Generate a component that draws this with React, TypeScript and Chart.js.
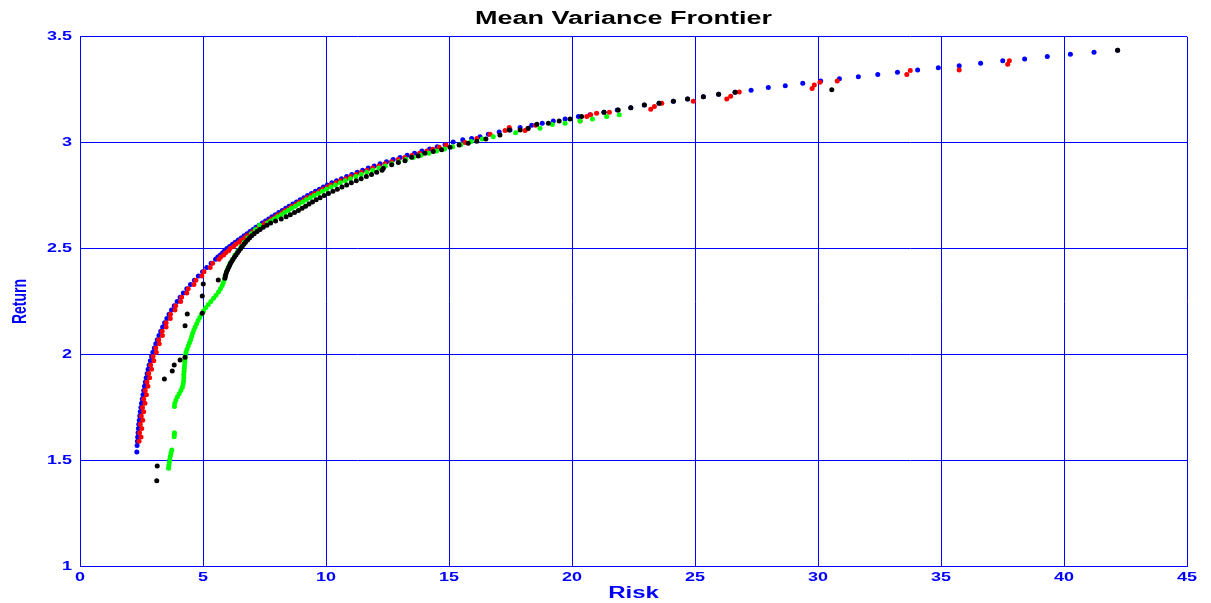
import React, { useEffect, useRef } from 'react';
import { Chart, registerables } from 'chart.js';

Chart.register(...registerables);

const chartTitle = 'Mean Variance Frontier';
const xAxisLabel = 'Risk';
const yAxisLabel = 'Return';
const xTickValues = [0, 5, 10, 15, 20, 25, 30, 35, 40, 45];
const xTickLabels = ['0', '5', '10', '15', '20', '25', '30', '35', '40', '45'];
const yTickValues = [1, 1.5, 2, 2.5, 3, 3.5];
const yTickLabels = ['1', '1.5', '2', '2.5', '3', '3.5'];

// [risk, return]
const bluePoints: [number, number][] = [
  [2.31, 1.54], [2.32, 1.57], [2.335, 1.59], [2.345, 1.61], [2.36, 1.63], [2.375, 1.65], [2.39, 1.67], [2.41, 1.69],
  [2.43, 1.71], [2.45, 1.73], [2.475, 1.75], [2.5, 1.77], [2.53, 1.79], [2.56, 1.81], [2.59, 1.83], [2.62, 1.85],
  [2.655, 1.87], [2.69, 1.89], [2.73, 1.91], [2.77, 1.93], [2.81, 1.95], [2.86, 1.97], [2.91, 1.99], [2.96, 2.01],
  [3.02, 2.03], [3.08, 2.05], [3.14, 2.07], [3.21, 2.09], [3.28, 2.11], [3.36, 2.13], [3.44, 2.15], [3.53, 2.17],
  [3.62, 2.19], [3.72, 2.21], [3.83, 2.23], [3.95, 2.25], [4.07, 2.27], [4.2, 2.29], [4.34, 2.31], [4.49, 2.33],
  [4.65, 2.35], [4.81, 2.37], [4.98, 2.39], [5.15, 2.41], [5.33, 2.43], [5.51, 2.45],
  [5.6, 2.46], [5.7, 2.47], [5.8, 2.48], [5.88, 2.49], [5.97, 2.5], [6.08, 2.51], [6.2, 2.52], [6.31, 2.53],
  [6.43, 2.54], [6.55, 2.55], [6.67, 2.56], [6.79, 2.57], [6.91, 2.58], [7.03, 2.59], [7.15, 2.6], [7.28, 2.61],
  [7.41, 2.62], [7.54, 2.63], [7.67, 2.64], [7.8, 2.65], [7.94, 2.66], [8.08, 2.67], [8.22, 2.68], [8.36, 2.69],
  [8.5, 2.7], [8.65, 2.71], [8.8, 2.72], [8.95, 2.73], [9.1, 2.74], [9.25, 2.75], [9.41, 2.76], [9.57, 2.77],
  [9.73, 2.78], [9.89, 2.79], [10.05, 2.8], [10.24, 2.81], [10.43, 2.82], [10.63, 2.83], [10.84, 2.84], [11.05, 2.85],
  [11.27, 2.86], [11.49, 2.87], [11.72, 2.88], [11.96, 2.89], [12.2, 2.9], [12.46, 2.91], [12.73, 2.92], [13.01, 2.93],
  [13.3, 2.94], [13.6, 2.95], [13.9, 2.96], [14.21, 2.97], [14.52, 2.98], [14.84, 2.99],
  [15.17, 3.003], [15.56, 3.013], [15.92, 3.019], [16.26, 3.028], [16.6, 3.04], [17.04, 3.05], [17.48, 3.06], [17.89, 3.071],
  [18.36, 3.082], [18.79, 3.092], [19.24, 3.102], [19.72, 3.112], [20.26, 3.123], [20.73, 3.132], [21.3, 3.143], [21.84, 3.154],
  [22.39, 3.165], [22.94, 3.177], [23.54, 3.186], [24.12, 3.195], [24.7, 3.206], [25.34, 3.217], [25.96, 3.228], [26.63, 3.238],
  [27.28, 3.247], [27.98, 3.26], [28.67, 3.269], [29.38, 3.28], [30.11, 3.291], [30.87, 3.302], [31.64, 3.311], [32.43, 3.322],
  [33.23, 3.332], [34.05, 3.343], [34.89, 3.354], [35.74, 3.363], [36.61, 3.375], [37.51, 3.386], [38.4, 3.395], [39.32, 3.406],
  [40.26, 3.417], [41.22, 3.427], [42.18, 3.436],
];

const redPoints: [number, number][] = [
  [2.4, 1.59], [2.48, 1.61], [2.42, 1.63], [2.51, 1.65], [2.45, 1.67], [2.55, 1.69], [2.49, 1.71], [2.59, 1.73],
  [2.54, 1.75], [2.64, 1.77], [2.59, 1.79], [2.7, 1.81], [2.65, 1.83], [2.76, 1.85], [2.72, 1.87], [2.83, 1.89],
  [2.79, 1.91], [2.91, 1.93], [2.87, 1.95], [3.0, 1.97], [2.97, 1.99], [3.1, 2.01], [3.08, 2.03], [3.22, 2.05],
  [3.2, 2.07], [3.35, 2.09], [3.34, 2.11], [3.5, 2.13], [3.5, 2.15], [3.67, 2.17], [3.68, 2.19], [3.86, 2.21],
  [3.89, 2.23], [4.09, 2.25], [4.13, 2.27], [4.34, 2.29], [4.4, 2.31], [4.63, 2.33], [4.71, 2.35], [4.95, 2.37],
  [5.04, 2.39], [5.29, 2.41], [5.39, 2.43], [5.65, 2.45],
  [5.72, 2.46], [5.84, 2.47], [5.92, 2.48], [6.04, 2.49], [6.1, 2.5], [6.24, 2.51], [6.33, 2.52], [6.46, 2.53],
  [6.55, 2.54], [6.69, 2.55], [6.79, 2.56], [6.93, 2.57], [7.03, 2.58], [7.17, 2.59], [7.27, 2.6], [7.42, 2.61],
  [7.53, 2.62], [7.68, 2.63], [7.79, 2.64], [7.95, 2.65], [8.06, 2.66], [8.23, 2.67], [8.34, 2.68], [8.51, 2.69],
  [8.62, 2.7], [8.8, 2.71], [8.93, 2.72], [9.11, 2.73], [9.23, 2.74], [9.41, 2.75], [9.54, 2.76], [9.73, 2.77],
  [9.87, 2.78], [10.06, 2.79], [10.2, 2.8], [10.41, 2.81], [10.58, 2.82], [10.8, 2.83], [11.0, 2.84], [11.22, 2.85],
  [11.43, 2.86], [11.67, 2.87], [11.9, 2.88], [12.15, 2.89], [12.4, 2.9], [12.66, 2.91], [12.93, 2.92], [13.2, 2.93],
  [13.5, 2.94], [13.8, 2.95], [14.1, 2.96],
  [14.34, 2.969], [14.6, 2.978], [14.88, 2.989], [15.65, 3.0], [16.13, 3.019], [16.67, 3.04], [17.28, 3.057], [17.45, 3.071],
  [18.09, 3.057], [18.2, 3.066], [18.52, 3.082], [20.33, 3.102], [20.6, 3.123], [20.76, 3.132], [21.0, 3.139], [21.52, 3.143],
  [23.2, 3.158], [23.35, 3.17], [23.65, 3.186], [24.93, 3.195], [26.29, 3.206], [26.45, 3.219], [26.8, 3.239], [29.76, 3.255],
  [29.85, 3.272], [30.08, 3.285], [30.78, 3.291], [33.61, 3.321], [33.75, 3.34], [35.74, 3.343], [37.71, 3.37], [37.78, 3.387],
];

const greenPoints: [number, number][] = [
  [3.6, 1.463], [3.61, 1.475], [3.63, 1.49], [3.65, 1.505], [3.67, 1.52], [3.7, 1.535], [3.73, 1.549],
  [3.83, 1.612], [3.83, 1.622], [3.84, 1.631],
  [3.84, 1.754], [3.85, 1.77], [3.9, 1.785], [3.96, 1.8], [4.03, 1.815], [4.1, 1.83], [4.16, 1.845], [4.19, 1.86],
  [4.21, 1.875], [4.22, 1.89], [4.22, 1.905], [4.23, 1.92], [4.24, 1.935], [4.25, 1.95], [4.26, 1.965], [4.27, 1.98],
  [4.28, 1.995], [4.31, 2.01], [4.35, 2.025], [4.4, 2.04], [4.45, 2.055], [4.5, 2.07], [4.54, 2.085], [4.58, 2.1],
  [4.63, 2.115], [4.68, 2.13], [4.74, 2.145], [4.8, 2.16], [4.87, 2.175], [4.94, 2.19], [5.02, 2.205], [5.11, 2.22],
  [5.21, 2.235], [5.32, 2.25], [5.43, 2.265], [5.53, 2.28], [5.63, 2.295], [5.71, 2.31], [5.78, 2.325], [5.83, 2.34],
  [5.87, 2.355], [5.9, 2.37], [5.95, 2.39], [6.02, 2.41], [6.1, 2.43], [6.2, 2.45], [6.3, 2.47], [6.42, 2.49],
  [6.55, 2.51], [6.68, 2.53], [6.82, 2.55], [6.97, 2.57], [7.13, 2.59], [7.3, 2.61],
  [7.62, 2.62], [7.76, 2.63], [7.9, 2.64], [8.04, 2.65], [8.18, 2.66], [8.32, 2.67], [8.46, 2.68], [8.6, 2.69],
  [8.75, 2.7], [8.9, 2.71], [9.05, 2.72], [9.2, 2.73], [9.36, 2.74], [9.52, 2.75], [9.68, 2.76], [9.85, 2.77],
  [10.02, 2.78], [10.2, 2.79], [10.38, 2.8], [10.58, 2.81], [10.78, 2.82], [10.99, 2.83], [11.21, 2.84], [11.43, 2.85],
  [11.66, 2.86], [11.9, 2.87], [12.15, 2.88], [12.41, 2.89], [12.68, 2.9], [12.96, 2.91], [13.25, 2.92], [13.55, 2.93],
  [13.86, 2.94], [14.18, 2.95], [14.5, 2.96], [14.82, 2.97], [15.15, 2.98], [15.48, 2.99],
  [15.9, 3.005], [16.35, 3.017], [16.8, 3.028], [17.71, 3.047], [18.7, 3.068], [19.2, 3.085], [19.72, 3.092], [20.33, 3.102],
  [20.83, 3.112], [21.41, 3.123], [21.92, 3.132],
];

const blackPoints: [number, number][] = [
  [3.12, 1.404], [3.14, 1.474], [3.43, 1.884], [3.75, 1.922], [3.83, 1.95], [4.07, 1.974], [4.27, 1.987], [4.27, 2.135],
  [4.36, 2.191], [4.97, 2.194], [4.97, 2.276], [5.01, 2.333], [5.62, 2.352],
  [5.89, 2.36], [5.91, 2.37], [5.93, 2.38], [5.96, 2.39], [6.0, 2.4], [6.04, 2.41], [6.08, 2.42], [6.12, 2.43],
  [6.17, 2.44], [6.22, 2.45], [6.28, 2.46], [6.34, 2.47], [6.4, 2.48], [6.46, 2.49], [6.53, 2.5], [6.59, 2.51],
  [6.66, 2.52], [6.73, 2.53], [6.81, 2.54], [6.89, 2.55], [6.98, 2.56], [7.08, 2.57], [7.2, 2.58], [7.32, 2.59],
  [7.45, 2.6], [7.6, 2.61], [7.75, 2.62], [7.95, 2.63], [8.18, 2.64], [8.38, 2.65], [8.55, 2.66], [8.72, 2.67],
  [8.88, 2.68], [9.03, 2.69], [9.17, 2.7], [9.31, 2.71], [9.45, 2.72], [9.6, 2.73], [9.76, 2.74], [9.93, 2.75],
  [10.1, 2.76], [10.28, 2.77], [10.46, 2.78], [10.65, 2.79], [10.84, 2.8], [11.03, 2.81], [11.23, 2.82], [11.43, 2.83],
  [11.64, 2.84], [11.85, 2.85], [12.06, 2.86], [12.28, 2.87],
  [12.33, 2.879], [12.67, 2.895], [12.94, 2.906], [13.21, 2.915], [13.48, 2.931], [13.75, 2.937], [14.02, 2.95], [14.36, 2.958],
  [14.7, 2.966], [15.04, 2.978], [15.41, 2.989], [15.78, 2.997], [16.13, 3.007], [16.5, 3.017], [17.07, 3.036], [17.45, 3.06],
  [17.89, 3.06], [18.22, 3.068], [18.57, 3.087], [19.04, 3.092], [19.48, 3.102], [19.92, 3.112], [20.39, 3.123], [21.3, 3.143],
  [21.88, 3.154], [22.39, 3.165], [22.94, 3.177], [23.54, 3.186], [24.12, 3.195], [24.7, 3.206], [25.34, 3.217], [25.96, 3.228],
  [26.63, 3.238], [30.56, 3.249], [42.18, 3.436],
];

const TEXT_STRETCH = 1.5;
const FONT_FAMILY = "'Liberation Sans', Arial, Helvetica, sans-serif";
const BLUE = '#0000ff';

function toXY(points: [number, number][]) {
  return points.map(([x, y]) => ({ x, y }));
}

function labelFor(values: number[], labels: string[], v: number) {
  const i = values.findIndex((t) => Math.abs(t - v) < 1e-9);
  return i >= 0 ? labels[i] : '';
}

export default function App() {
  const ref = useRef<HTMLCanvasElement>(null);

  useEffect(() => {
    const canvas = ref.current;
    if (!canvas) return;
    const ctx = canvas.getContext('2d') as CanvasRenderingContext2D;
    const origFill = ctx.fillText;
    (ctx as any).fillText = function (text: string, x: number, y: number, maxWidth?: number) {
      const m = ctx.getTransform();
      const px = m.a * x + m.c * y + m.e;
      ctx.save();
      const s = new DOMMatrix([TEXT_STRETCH, 0, 0, 1, px - TEXT_STRETCH * px, 0]);
      ctx.setTransform(s.multiply(m));
      if (maxWidth === undefined) origFill.call(ctx, text, x, y);
      else origFill.call(ctx, text, x, y, maxWidth);
      ctx.restore();
    };

    const mk = (label: string, pts: [number, number][], color: string, order: number) => ({
      label,
      data: toXY(pts),
      backgroundColor: color,
      borderColor: color,
      pointRadius: 2.5,
      pointBorderWidth: 0,
      pointHoverRadius: 2.5,
      showLine: false,
      order,
    });

    const chart = new Chart(ctx, {
      type: 'scatter',
      data: {
        datasets: [
          mk('Series 1', bluePoints, BLUE, 4),
          mk('Series 2', redPoints, '#ff0000', 3),
          mk('Series 3', greenPoints, '#00ff00', 2),
          mk('Series 4', blackPoints, '#000000', 1),
        ],
      },
      options: {
        responsive: false,
        devicePixelRatio: 1,
        animation: false,
        layout: { padding: { left: 0, right: -36, top: 0, bottom: 0 } },
        plugins: {
          legend: { display: false },
          tooltip: { enabled: false },
          title: {
            display: true,
            text: chartTitle,
            color: '#000000',
            font: { family: FONT_FAMILY, size: 18, weight: 'bold' },
            padding: { top: 8.5, bottom: 6.6 },
          },
        },
        scales: {
          x: {
            type: 'linear',
            min: 0,
            max: 45,
            afterBuildTicks: (scale: any) => {
              scale.ticks = xTickValues.map((v) => ({ value: v }));
            },
            afterFit: (scale: any) => {
              scale.height = 36.7;
              scale.paddingLeft = 0;
              scale.paddingRight = 0;
            },
            grid: { color: BLUE, lineWidth: 1, drawTicks: false },
            border: { display: true, color: BLUE, width: 1 },
            ticks: {
              autoSkip: false,
              maxRotation: 0,
              padding: 4,
              color: BLUE,
              font: { family: FONT_FAMILY, size: 12, weight: 'bold' },
              callback: (v: any) => labelFor(xTickValues, xTickLabels, Number(v)),
            },
            title: {
              display: true,
              text: xAxisLabel,
              color: BLUE,
              font: { family: FONT_FAMILY, size: 16, weight: 'bold' },
              padding: { top: 0, bottom: -0.6 },
            },
          },
          y: {
            type: 'linear',
            position: 'left',
            min: 1,
            max: 3.5,
            afterBuildTicks: (scale: any) => {
              scale.ticks = yTickValues.map((v) => ({ value: v }));
            },
            afterFit: (scale: any) => {
              scale.width = 80;
              scale.paddingTop = 0;
              scale.paddingBottom = 0;
            },
            grid: { color: BLUE, lineWidth: 1, drawTicks: false },
            border: { display: true, color: BLUE, width: 1 },
            ticks: {
              autoSkip: false,
              padding: 8,
              color: BLUE,
              font: { family: FONT_FAMILY, size: 12, weight: 'bold' },
              callback: (v: any) => labelFor(yTickValues, yTickLabels, Number(v)),
            },
            title: {
              display: true,
              text: yAxisLabel,
              color: BLUE,
              font: { family: FONT_FAMILY, size: 14, weight: 'bold' },
              padding: { top: 11.6, bottom: 0 },
            },
          },
          yRightSpacer: {
            type: 'linear',
            position: 'right',
            min: 1,
            max: 3.5,
            display: true,
            afterFit: (scale: any) => {
              scale.width = 60;
              scale.paddingTop = 0;
              scale.paddingBottom = 0;
            },
            grid: { display: false, drawTicks: false },
            border: { display: false },
            ticks: { display: false },
            title: { display: false },
          },
        },
      },
    } as any);

    return () => {
      chart.destroy();
      (ctx as any).fillText = origFill;
    };
  }, []);

  return (
    <div style={{ position: 'fixed', left: 0, top: 0, width: 1211, height: 603, background: '#ffffff' }}>
      <canvas ref={ref} width={1211} height={603} style={{ display: 'block', width: 1211, height: 603 }} />
    </div>
  );
}
